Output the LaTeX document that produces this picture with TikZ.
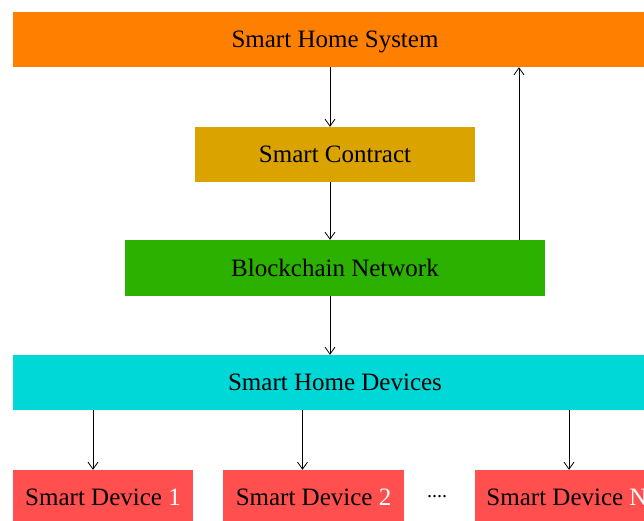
\documentclass[tikz,border=0pt]{standalone}
\usepackage{fontspec}
\setmainfont{Liberation Serif}
\usetikzlibrary{positioning, arrows.meta}
\usepackage{xcolor}
\definecolor{HomeOrange}{HTML}{FF8000}
\definecolor{ContractGold}{HTML}{DAA300}
\definecolor{ChainGreen}{HTML}{2DB100}
\definecolor{DevCyan}{HTML}{00D7D7}
\definecolor{DevRed}{HTML}{FF4F4F}

\tikzset{
  block/.style={inner sep=0pt, minimum height=55pt, text height=16.5pt, text depth=0pt, align=center},
  arr/.style={-{Straight Barb[length=7pt,width=10pt]}, line width=0.8pt},
}

\begin{document}
\begin{tikzpicture}[x=1pt, y=-1pt, font=\fontsize{25}{29}\selectfont]
                \clip (0,0) rectangle (644,521);
                \fill[white] (0,0) rectangle (644,521);

                \node[block, fill=HomeOrange, minimum width=644pt] (shs) at (335,39.5) {Smart Home System};
                \node[block, fill=ContractGold, minimum width=280pt] (sc) at (335,154.5) {Smart Contract};
                \node[block, fill=ChainGreen, minimum width=420pt, minimum height=56pt] (bn) at (335,268) {Blockchain Network};
                \node[block, fill=DevCyan, minimum width=644pt] (shd) at (335,382.5) {Smart Home Devices};

                % device row
                \node[block, fill=DevRed, minimum width=180pt] (d1) at (103,497.5) {Smart Device \textcolor{white}{1}};
                \node[block, fill=DevRed, minimum width=181pt] (d2) at (313.5,497.5) {Smart Device \textcolor{white}{2}};
                \node[font=\fontsize{20}{24}\selectfont] (dots) at (437,497) {....};
                \node[block, fill=DevRed, minimum width=184pt] (dN) at (567,497.5) {Smart Device \textcolor{white}{N}};

                \draw[arr] ([xshift=-5pt]shs.south) -- ([xshift=-5pt]sc.north);
                \draw[arr] ([xshift=-5pt]sc.south) -- ([xshift=-5pt]bn.north);
                \draw[arr] ([xshift=-5pt]bn.south) -- ([xshift=-5pt]shd.north);
                \draw[arr] ([xshift=184pt]bn.north) -- ([xshift=184pt]bn.north |- shs.south);

                \draw[arr] ([xshift=-10pt]d1.north |- shd.south) -- ([xshift=-10pt]d1.north);
                \draw[arr] ([xshift=-11pt]d2.north |- shd.south) -- ([xshift=-11pt]d2.north);
                \draw[arr] ([xshift=2pt]dN.north |- shd.south) -- ([xshift=2pt]dN.north);
            \end{tikzpicture}
\end{document}
